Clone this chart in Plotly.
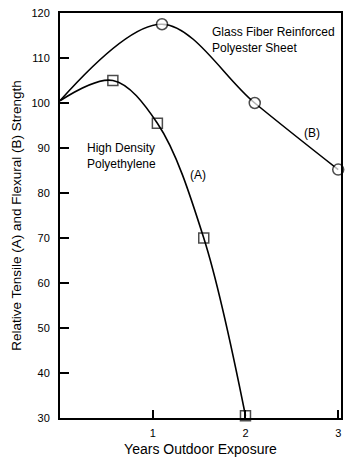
import plotly.graph_objects as go

# Data
years_a = [0, 0.57, 1.05, 1.55, 2.0]
strength_a = [100.5, 105, 95.5, 70, 30.5]
years_b = [0, 1.1, 2.1, 3.0]
strength_b = [100.5, 117.5, 100, 85.2]

x_ticks = [1, 2, 3]
y_ticks = [30, 40, 50, 60, 70, 80, 90, 100, 110, 120]

FONT = "Liberation Sans, Arial, Helvetica, sans-serif"

fig = go.Figure()
fig.add_trace(go.Scatter(
    x=years_a, y=strength_a, mode="lines+markers",
    line=dict(color="black", width=1.6, shape="spline", smoothing=1.0),
    marker=dict(symbol="square-open", size=[0] + [10] * (len(years_a) - 1),
                color="black", line=dict(width=1.5)),
    cliponaxis=False, showlegend=False))
fig.add_trace(go.Scatter(
    x=years_b, y=strength_b, mode="lines+markers",
    line=dict(color="black", width=1.6, shape="spline", smoothing=1.0),
    marker=dict(symbol="circle", size=[0] + [11] * (len(years_b) - 1),
                color="white", line=dict(width=1.5, color="black")),
    cliponaxis=False, showlegend=False))

annots = [
    dict(x=1.62, y=117.8, text="Glass Fiber Reinforced<br>Polyester Sheet", xanchor="left", yanchor="top", align="left"),
    dict(x=0.27, y=92.0, text="High Density<br>Polyethylene", xanchor="left", yanchor="top", align="left"),
    dict(x=1.49, y=84, text="(A)", xanchor="center", yanchor="middle"),
    dict(x=2.72, y=93.3, text="(B)", xanchor="center", yanchor="middle"),
]
for a in annots:
    fig.add_annotation(**a, showarrow=False, xref="x", yref="y",
                       font=dict(family=FONT, size=12, color="black"))

fig.update_layout(
    width=350, height=463,
    margin=dict(l=60, r=9, t=7, b=45),
    paper_bgcolor="white", plot_bgcolor="white",
    font=dict(family=FONT, color="black"),
)
fig.update_xaxes(
    range=[0, 3.03], tickvals=x_ticks, ticktext=[str(v) for v in x_ticks],
    ticks="inside", ticklen=8, tickwidth=1.5, tickcolor="black",
    showline=True, linewidth=2, linecolor="black", mirror=True,
    showgrid=False, zeroline=False,
    tickfont=dict(size=11, family=FONT), ticklabelstandoff=4,
    title=dict(text="Years Outdoor Exposure", font=dict(size=14, family=FONT), standoff=6),
)
fig.update_yaxes(
    range=[30, 120], tickvals=y_ticks, ticktext=[str(v) for v in y_ticks],
    ticks="inside", ticklen=9, tickwidth=1.5, tickcolor="black",
    showline=True, linewidth=2, linecolor="black", mirror=True,
    showgrid=False, zeroline=False,
    tickfont=dict(size=11, family=FONT), ticklabelstandoff=6,
    title=dict(text="Relative Tensile (A) and Flexural (B) Strength", font=dict(size=13.5, family=FONT), standoff=7),
)

fig.write_html("out.html")
